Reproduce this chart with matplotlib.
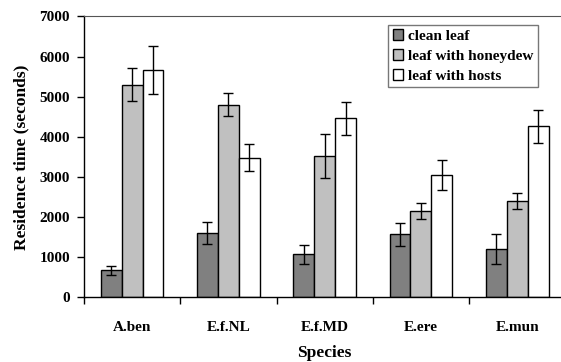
import numpy as np
import matplotlib.pyplot as plt

plt.rcParams['font.family'] = 'Liberation Serif'
plt.rcParams['font.weight'] = 'bold'

# --- Data ---
species = ['A.ben', 'E.f.NL', 'E.f.MD', 'E.ere', 'E.mun']
clean = [670, 1600, 1070, 1570, 1200]
clean_err = [110, 270, 235, 290, 380]
honeydew = [5300, 4800, 3520, 2150, 2400]
honeydew_err = [420, 290, 540, 190, 210]
hosts = [5660, 3480, 4460, 3040, 4260]
hosts_err = [590, 340, 410, 370, 420]

series = [
    ('clean leaf', clean, clean_err, '#808080'),
    ('leaf with honeydew', honeydew, honeydew_err, '#c0c0c0'),
    ('leaf with hosts', hosts, hosts_err, '#ffffff'),
]

fig = plt.figure(figsize=(5.61, 3.62), dpi=100)
ax = fig.add_axes([0.1497, 0.1787, 0.858, 0.776])

x = np.arange(len(species))
w = 0.217
for i, (name, vals, errs, col) in enumerate(series):
    ax.bar(x + (i - 1) * w, vals, w, color=col, edgecolor='black', linewidth=1.0,
           label=name, zorder=2)
    ax.errorbar(x + (i - 1) * w, vals, yerr=errs, fmt='none', ecolor='black',
                elinewidth=1.0, capsize=3.6, capthick=1.0, zorder=3)

ax.set_xlim(-0.5, len(species) - 0.5)
ax.set_ylim(0, 7000)
ax.set_yticks(np.arange(0, 7001, 1000))
ax.set_xticks(x)
ax.set_xticklabels(species, fontsize=11, fontweight='bold')
ax.set_xticks(np.arange(-0.5, len(species), 1), minor=True)
ax.tick_params(axis='x', which='major', length=0, pad=17)
ax.tick_params(axis='x', which='minor', length=5, width=1, direction='out')
ax.tick_params(axis='y', length=5, width=1, direction='out', labelsize=11, pad=5)
for lab in ax.get_yticklabels():
    lab.set_fontweight('bold')

ax.spines['right'].set_visible(False)
ax.spines['top'].set_color('#555555')
ax.spines['left'].set_linewidth(1.0)
ax.spines['bottom'].set_linewidth(1.0)

ax.set_ylabel('Residence time (seconds)', fontsize=12.5, fontweight='bold', labelpad=7)
ax.set_xlabel('Species', fontsize=12.5, fontweight='bold', labelpad=8)

leg = ax.legend(loc='upper right', bbox_to_anchor=(0.943, 0.97), frameon=True,
                fancybox=False, edgecolor='#555555', fontsize=11,
                handlelength=0.7, handleheight=0.7, handletextpad=0.3,
                borderpad=0.3, labelspacing=0.4, borderaxespad=0)
leg.get_frame().set_linewidth(1.0)
for t in leg.get_texts():
    t.set_fontweight('bold')

fig.savefig('out.png', dpi=100)
